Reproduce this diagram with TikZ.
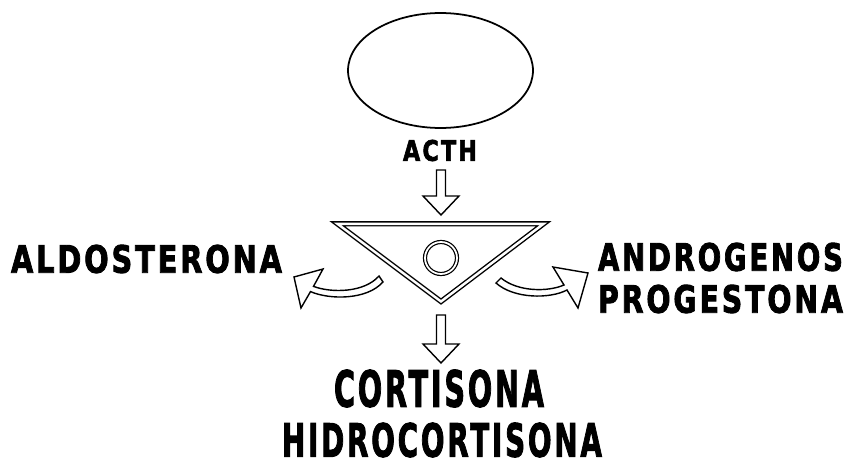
\documentclass[tikz,border=0pt]{standalone}
\usepackage{fontspec}
\usepackage{graphicx}
\newfontfamily\labelfont[LetterSpace=10, BoldFeatures={FakeBold=2.5}]{DejaVu Sans}
\usetikzlibrary{calc,shapes.geometric}

\begin{document}
\begin{tikzpicture}[x=0.02cm, y=-0.02cm, line width=0.8pt,
		hollow/.style={draw, fill=white, line join=miter},
		lbl/.style={inner sep=0pt, font=\labelfont\bfseries}]
			\useasboundingbox (0,0) rectangle (850,463);
			% hipofisis
			\node[ellipse, draw, line width=1pt, minimum width=3.70cm, minimum height=2.30cm, inner sep=0pt] (gland) at (440.5,70.5) {};
			\node[lbl] (acth) at (440,150.5) {\resizebox{1.48cm}{0.42cm}{ACTH}};
			% suprarrenal
			\coordinate (tl) at (337.4,223.8);
			\coordinate (tr) at (543.6,223.8);
			\coordinate (tb) at (441,301.5);
			\draw[double, double distance=1.4pt, line join=miter] (tl) -- (tr) -- (tb) -- cycle;
			\node[circle, draw, double, double distance=1pt, line width=0.7pt, minimum size=0.64cm, inner sep=0pt] (nucleus) at (441,258) {};
			% flechas rectas
			\coordinate (ain) at (441,170);
			\coordinate (aout) at (441,215);
			\draw[hollow] ($(ain)+(-4.5,0)$) -- ($(aout)+(-4.5,-19)$) -- ($(aout)+(-18,-19)$) -- (aout) -- ($(aout)+(18,-19)$) -- ($(aout)+(4.5,-19)$) -- ($(ain)+(4.5,0)$) -- cycle;
			\coordinate (bin) at (441,315);
			\coordinate (bout) at (441,363);
			\draw[hollow] ($(bin)+(-4.5,0)$) -- ($(bout)+(-4.5,-19)$) -- ($(bout)+(-18,-19)$) -- (bout) -- ($(bout)+(18,-19)$) -- ($(bout)+(4.5,-19)$) -- ($(bin)+(4.5,0)$) -- cycle;
			% flechas curvas
			\coordinate (lstart) at (381,279);
			\draw[hollow, shift={(lstart)}] (2,3) -- (-2,-3) .. controls (-17,14) and (-50,14) .. (-67.5,7.4) -- (-58,-10) -- (-87,-2) -- (-80,29) -- (-70.5,12.6) .. controls (-51,21) and (-14,21) .. (2,3) -- cycle;
			\coordinate (rstart) at (498.5,280.5);
			\draw[hollow, shift={(rstart)}] (-2.5,2.5) -- (2.5,-2.5) .. controls (19.5,11.5) and (49.5,11.5) .. (65.5,4.5) -- (54.5,-13.5) -- (89.5,-7.5) -- (79.5,27.5) -- (68.5,9.5) .. controls (51.5,18.5) and (15.5,18.5) .. (-2.5,2.5) -- cycle;
			% hormonas
			\node[lbl] (aldo) at (146.5,259) {\resizebox{5.42cm}{0.56cm}{ALDOSTERONA}};
			\node[lbl] (andro) at (720.5,257) {\resizebox{4.9cm}{0.56cm}{ANDROGENOS}};
			\node[lbl] (proge) at (720.5,299) {\resizebox{4.9cm}{0.56cm}{PROGESTONA}};
			\node[lbl] (cort) at (439,388.5) {\resizebox{4.2cm}{0.74cm}{CORTISONA}};
			\node[lbl] (hidro) at (442,440) {\resizebox{6.4cm}{0.68cm}{HIDROCORTISONA}};
	\end{tikzpicture}
\end{document}
